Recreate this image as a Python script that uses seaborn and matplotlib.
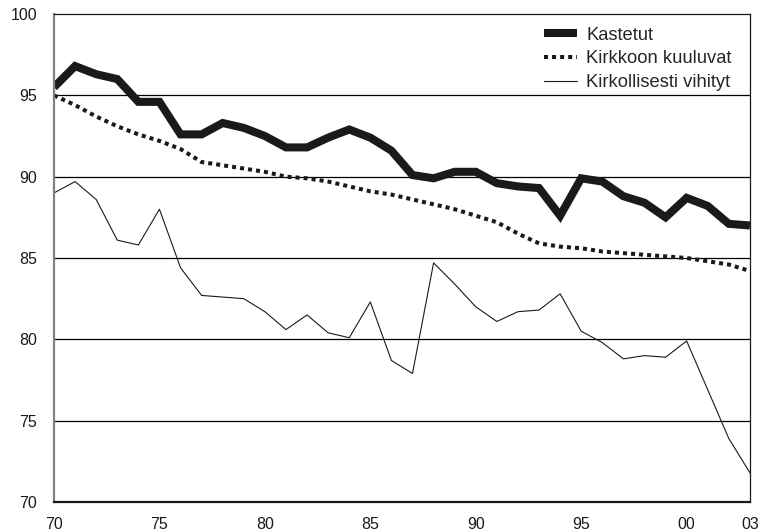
import numpy as np
import pandas as pd
import matplotlib
matplotlib.use("Agg")
import matplotlib.pyplot as plt
import seaborn as sns

# years 1970-2003, shown as two-digit labels
years = list(range(70, 104))

kastetut = [95.5, 96.8, 96.3, 96.0, 94.6, 94.6, 92.6, 92.6, 93.3, 93.0,
            92.5, 91.8, 91.8, 92.4, 92.9, 92.4, 91.6, 90.1, 89.9, 90.3,
            90.3, 89.6, 89.4, 89.3, 87.6, 89.9, 89.7, 88.8, 88.4, 87.5,
            88.7, 88.2, 87.1, 87.0]

kirkkoon_kuuluvat = [95.0, 94.4, 93.7, 93.1, 92.6, 92.2, 91.7, 90.9, 90.7, 90.5,
                     90.3, 90.0, 89.9, 89.7, 89.4, 89.1, 88.9, 88.6, 88.3, 88.0,
                     87.6, 87.2, 86.5, 85.9, 85.7, 85.6, 85.4, 85.3, 85.2, 85.1,
                     85.0, 84.8, 84.6, 84.2]

vihityt = [89.0, 89.7, 88.6, 86.1, 85.8, 88.0, 84.4, 82.7, 82.6, 82.5,
           81.7, 80.6, 81.5, 80.4, 80.1, 82.3, 78.7, 77.9, 84.7, 83.4,
           82.0, 81.1, 81.7, 81.8, 82.8, 80.5, 79.8, 78.8, 79.0, 78.9,
           79.9, 76.9, 73.9, 71.8]

xticks = [70, 75, 80, 85, 90, 95, 100, 103]
xtick_labels = ["70", "75", "80", "85", "90", "95", "00", "03"]
yticks = [70, 75, 80, 85, 90, 95, 100]

sns.set_style("white")
plt.rcParams['font.family'] = ['Liberation Sans', 'DejaVu Sans']

fig = plt.figure(figsize=(7.66, 5.31), dpi=100)
ax = fig.add_axes([0.0705, 0.0546, 0.9085, 0.919])

# horizontal grid lines
for y in yticks[1:-1]:
    ax.axhline(y, color="black", lw=0.9, zorder=0)

sns.lineplot(x=years, y=kastetut, ax=ax, color="#1a1a1a", lw=5.8,
             label="Kastetut", solid_joinstyle="miter", solid_capstyle="butt")
sns.lineplot(x=years, y=kirkkoon_kuuluvat, ax=ax, color="#1a1a1a", lw=2.9,
             linestyle=(0, (1, 1)), label="Kirkkoon kuuluvat")
sns.lineplot(x=years, y=vihityt, ax=ax, color="#1a1a1a", lw=0.8,
             label="Kirkollisesti vihityt")

ax.set_xlim(70, 103)
ax.set_ylim(70, 100)
ax.set_xticks(xticks)
ax.set_xticklabels(xtick_labels)
ax.set_yticks(yticks)
ax.tick_params(axis="both", length=0, labelsize=11.5, colors="#1a1a1a")
ax.tick_params(axis="y", pad=12)
ax.tick_params(axis="x", pad=11)
ax.set_xlabel("")
ax.set_ylabel("")

for side in ["top", "right"]:
    ax.spines[side].set_color("#1a1a1a")
    ax.spines[side].set_linewidth(0.9)
ax.spines["left"].set_color("#808080")
ax.spines["left"].set_linewidth(1.6)
ax.spines["bottom"].set_color("#1a1a1a")
ax.spines["bottom"].set_linewidth(1.6)

ax.legend(loc="upper right", bbox_to_anchor=(0.992, 1.0), frameon=False,
          fontsize=13.2, handlelength=1.8, labelspacing=0.36,
          handletextpad=0.5, borderaxespad=0.3)

fig.savefig("out.png", dpi=100)
